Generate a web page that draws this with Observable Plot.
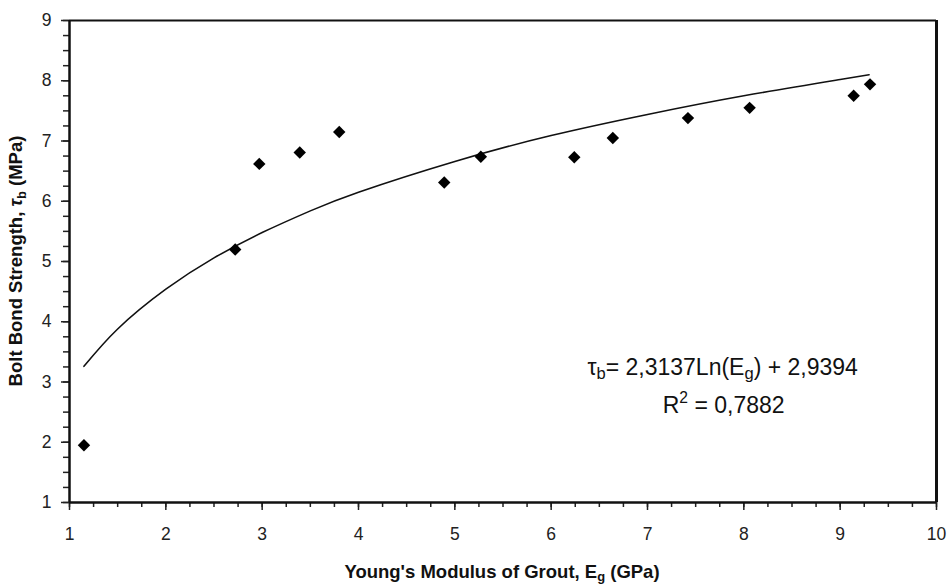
<!DOCTYPE html>
<html><head><meta charset="utf-8">
<script src="https://cdn.jsdelivr.net/npm/d3@7"></script>
<script src="https://cdn.jsdelivr.net/npm/@observablehq/plot@0.6"></script>
<style>
body{margin:0;background:#fff;}
#chart svg{font-family:"Liberation Sans",Arial,sans-serif;background:#fff;}
</style>
</head><body><div id="chart"></div>
<script>
// measured data points (diamonds)
const modulusGPa = [1.15, 2.72, 2.97, 3.39, 3.80, 4.89, 5.27, 6.24, 6.64, 7.42, 8.06, 9.14, 9.31];
const bondStrengthMPa = [1.95, 5.20, 6.62, 6.81, 7.15, 6.31, 6.74, 6.73, 7.05, 7.38, 7.55, 7.75, 7.94];
// logarithmic trendline
const trendX = [1.15, 1.5, 2.0, 2.5, 3.0, 3.5, 4.0, 5.0, 6.0, 7.0, 8.0, 9.0, 9.3];
const trendY = [3.26, 3.88, 4.54, 5.06, 5.48, 5.84, 6.15, 6.66, 7.09, 7.44, 7.75, 8.02, 8.10];
// ticks
const xTicks = [1, 2, 3, 4, 5, 6, 7, 8, 9, 10];
const yTicks = [1, 2, 3, 4, 5, 6, 7, 8, 9];
const xMinorTicks = d3.range(1, 10.001, 0.25);
const yMinorTicks = d3.range(1, 9.001, 0.25);
// annotation
const equationX = [7.78, 7.79];
const equationY = [3.24, 2.61];
const equationText = ["τb= 2,3137Ln(Eg) + 2,9394", "R2 = 0,7882"];

const points = modulusGPa.map((x, i) => ({x, y: bondStrengthMPa[i]}));
const trend = trendX.map((x, i) => ({x, y: trendY[i]}));
const eq = equationText.map((t, i) => ({x: equationX[i], y: equationY[i], t}));

const W = 947, H = 587;
const plot = Plot.plot({
  width: W, height: H,
  marginLeft: 69, marginRight: 11, marginTop: 20, marginBottom: 85,
  style: {fontFamily: '"Liberation Sans", Arial, sans-serif', fontSize: "17.5px", color: "#222", background: "#fff"},
  x: {domain: [1, 10]},
  y: {domain: [1, 9]},
  marks: [
    Plot.axisX(xMinorTicks, {tickSize: 5, text: null, label: null, strokeWidth: 1.5, stroke: "#222"}),
    Plot.axisY(yMinorTicks, {tickSize: 6, text: null, label: null, strokeWidth: 1.5, stroke: "#222"}),
    Plot.axisX(xTicks, {tickSize: 8, tickPadding: 17, tickFormat: "d", strokeWidth: 1.5, stroke: "#222", label: null, fontSize: 17.5, fill: "#222"}),
    Plot.axisY(yTicks, {tickSize: 8, tickPadding: 10, tickFormat: "d", strokeWidth: 1.5, stroke: "#222", label: null, fontSize: 17.5, fill: "#222"}),
    Plot.line(trend, {x: "x", y: "y", curve: "natural", stroke: "#111", strokeWidth: 1.6}),
    Plot.dot(points, {x: "x", y: "y", symbol: "diamond2", r: 5.6, fill: "#000", stroke: "none"}),
    Plot.text(eq, {x: "x", y: "y", text: "t", fontSize: 23, fill: "#111", textAnchor: "middle"}),
    Plot.ruleX([1], {stroke: "#111", strokeWidth: 2.5}),
    Plot.ruleY([1], {stroke: "#111", strokeWidth: 2.5}),
    Plot.ruleX([10], {stroke: "#111", strokeWidth: 3}),
    Plot.ruleY([9], {stroke: "#111", strokeWidth: 2})
  ]
});
document.getElementById("chart").appendChild(plot);

const svg = d3.select(plot);
// make sure tick labels use the larger size
svg.selectAll('g[aria-label$="tick label"]').attr("font-size", 17.5);
svg.selectAll('g[aria-label$="tick label"] text').attr("font-size", 17.5);

// rich text (subscripts/superscripts) for the equation
const eqTexts = svg.selectAll('g[aria-label="text"] text').nodes();
if (eqTexts.length >= 2) {
  const t0 = d3.select(eqTexts[0]).text("");
  t0.append("tspan").text("τ");
  t0.append("tspan").attr("font-size", "0.72em").attr("dy", "0.25em").text("b");
  t0.append("tspan").attr("dy", "-0.18em").text("= 2,3137Ln(E");
  t0.append("tspan").attr("font-size", "0.72em").attr("dy", "0.25em").text("g");
  t0.append("tspan").attr("dy", "-0.18em").text(") + 2,9394");
  const t1 = d3.select(eqTexts[1]).text("");
  t1.append("tspan").text("R");
  t1.append("tspan").attr("font-size", "0.68em").attr("dy", "-0.6em").text("2");
  t1.append("tspan").attr("dy", "0.41em").text(" = 0,7882");
}

// axis titles
const xt = svg.append("text")
  .attr("x", 502).attr("y", 578)
  .attr("text-anchor", "middle")
  .attr("font-weight", "bold").attr("font-size", 18.5).attr("fill", "#111");
xt.append("tspan").text("Young's Modulus of Grout, E");
xt.append("tspan").attr("font-size", "0.7em").attr("dy", "0.22em").text("g");
xt.append("tspan").attr("dy", "-0.154em").text(" (GPa)");

const yt = svg.append("text")
  .attr("transform", "translate(22,261) rotate(-90)")
  .attr("text-anchor", "middle")
  .attr("font-weight", "bold").attr("font-size", 18.5).attr("fill", "#111");
yt.append("tspan").text("Bolt Bond Strength, ");
yt.append("tspan").attr("font-style", "italic").text("τ");
yt.append("tspan").attr("font-size", "0.7em").attr("dy", "0.3em").text("b");
yt.append("tspan").attr("dy", "-0.21em").text(" (MPa)");
</script>
</body></html>
